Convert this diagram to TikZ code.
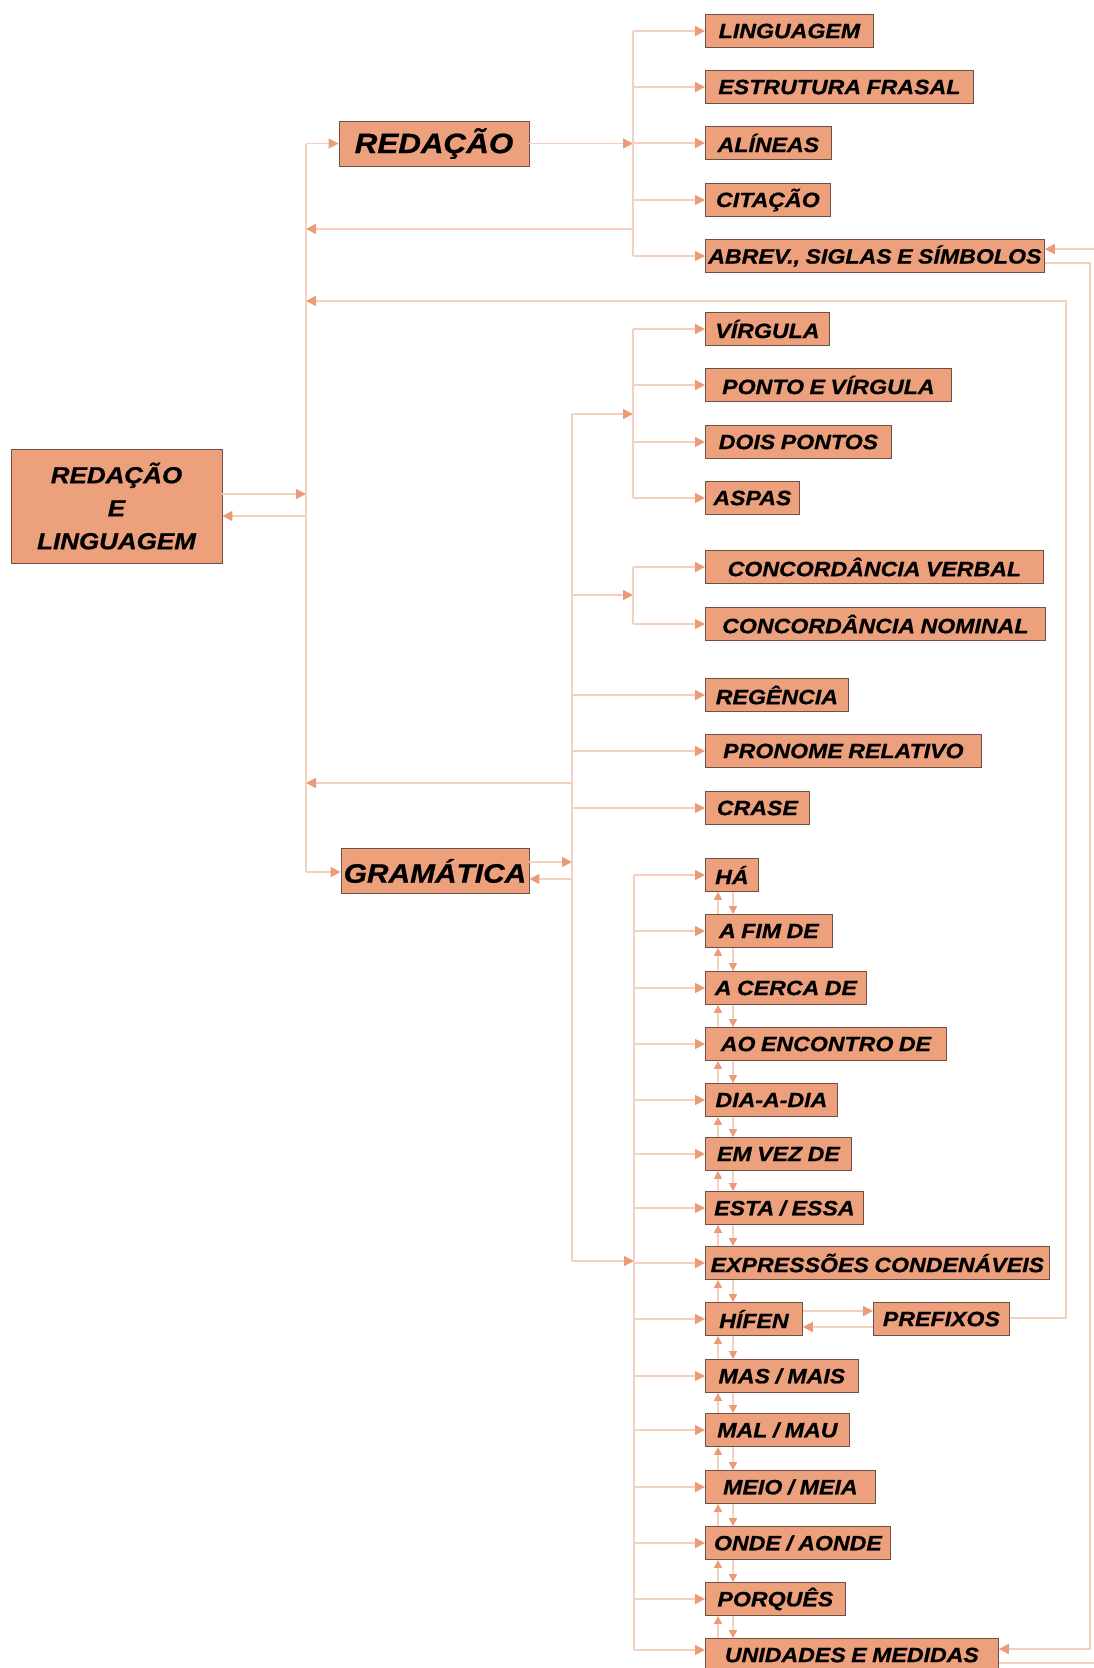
\documentclass[tikz,border=0pt]{standalone}
\usepackage{fontspec}
\newfontfamily\boxfont{Liberation Sans}[FakeStretch=1.12,WordSpace=0.85,FakeBold=0.8]
\usetikzlibrary{arrows.meta,calc}
\definecolor{boxfill}{RGB}{236,160,124}
\definecolor{boxline}{RGB}{110,80,70}
\definecolor{linec}{RGB}{246,208,190}
\definecolor{tipc}{RGB}{236,155,120}
\begin{document}
\begin{tikzpicture}[x=0.75pt,y=-0.75pt,
  conn/.style={draw=linec, line width=1.1pt},
  arr/.style={conn, -{Triangle[length=7.5pt,width=7.5pt,color=tipc]}},
  sarr/.style={conn, -{Triangle[length=6pt,width=6pt,color=tipc]}},
  boxbase/.style={draw=boxline, fill=boxfill, line width=0.6pt, inner sep=0pt, text=black},
  sbox/.style={boxbase, anchor=west, minimum height=24.75pt, font=\boxfont\bfseries\itshape\fontsize{15.5}{18}\selectfont},
  bbox/.style={boxbase, minimum height=33.75pt, font=\boxfont\bfseries\itshape\fontsize{20}{24}\selectfont},
  mbox/.style={boxbase, align=center, minimum width=158.25pt, minimum height=85.5pt, font=\boxfont\bfseries\itshape\fontsize{17.4}{24.75}\selectfont}
]
\useasboundingbox (0,0) rectangle (1093,1668);
\fill[white] (0,0) rectangle (1093,1668);

% main nodes
\node[mbox] (main) at (116.5,506) {REDAÇÃO\\E\\LINGUAGEM};
\node[bbox, minimum width=142.5pt, font=\boxfont\bfseries\itshape\fontsize{21}{24}\selectfont] (red) at (434,143.5) {REDAÇÃO};
\node[bbox, minimum width=141pt] (gra) at (435,871) {GRAMÁTICA};

% top group
\node[sbox, minimum width=168*0.75pt] (lin) at (705,31) {LINGUAGEM};
\node[sbox, minimum width=268*0.75pt] (est) at (705,87) {ESTRUTURA FRASAL};
\node[sbox, minimum width=126*0.75pt] (ali) at (705,143) {ALÍNEAS};
\node[sbox, minimum width=125*0.75pt] (cit) at (705,200) {CITAÇÃO};
\node[sbox, minimum width=339*0.75pt] (abr) at (705,256) {ABREV., SIGLAS E SÍMBOLOS};

% punctuation group
\node[sbox, minimum width=124*0.75pt] (vir) at (705,329) {VÍRGULA};
\node[sbox, minimum width=246*0.75pt] (pev) at (705,385) {PONTO E VÍRGULA};
\node[sbox, minimum width=186*0.75pt] (doi) at (705,442) {DOIS PONTOS};
\node[sbox, minimum width=94*0.75pt] (asp) at (705,498) {ASPAS};

% concordance
\node[sbox, minimum width=338*0.75pt] (cv) at (705,567) {CONCORDÂNCIA VERBAL};
\node[sbox, minimum width=340*0.75pt] (cn) at (705,624) {CONCORDÂNCIA NOMINAL};

\node[sbox, minimum width=143*0.75pt] (reg) at (705,695) {REGÊNCIA};
\node[sbox, minimum width=276*0.75pt] (pro) at (705,751) {PRONOME RELATIVO};
\node[sbox, minimum width=104*0.75pt] (cra) at (705,808) {CRASE};

% expressions
\node[sbox, minimum width=53*0.75pt] (e1) at (705,875) {HÁ};
\node[sbox, minimum width=127*0.75pt] (e2) at (705,931) {A FIM DE};
\node[sbox, minimum width=161*0.75pt] (e3) at (705,988) {A CERCA DE};
\node[sbox, minimum width=241*0.75pt] (e4) at (705,1044) {AO ENCONTRO DE};
\node[sbox, minimum width=132*0.75pt] (e5) at (705,1100) {DIA-A-DIA};
\node[sbox, minimum width=146*0.75pt] (e6) at (705,1154) {EM VEZ DE};
\node[sbox, minimum width=158*0.75pt] (e7) at (705,1208) {ESTA / ESSA};
\node[sbox, minimum width=344*0.75pt] (e8) at (705,1263) {EXPRESSÕES CONDENÁVEIS};
\node[sbox, minimum width=97*0.75pt] (e9) at (705,1319) {HÍFEN};
\node[sbox, minimum width=153*0.75pt] (e10) at (705,1376) {MAS / MAIS};
\node[sbox, minimum width=144*0.75pt] (e11) at (705,1430) {MAL / MAU};
\node[sbox, minimum width=170*0.75pt] (e12) at (705,1487) {MEIO / MEIA};
\node[sbox, minimum width=185*0.75pt] (e13) at (705,1543) {ONDE / AONDE};
\node[sbox, minimum width=140*0.75pt] (e14) at (705,1599) {PORQUÊS};
\node[sbox, minimum width=293*0.75pt] (e15) at (705,1655) {UNIDADES E MEDIDAS};

\node[sbox, minimum width=136*0.75pt] (pre) at (873,1319) {PREFIXOS};

% junction coordinates
\coordinate (v1top) at (306,143.5);
\coordinate (v1bot) at (306,872);
\coordinate (v1a) at (306,494);
\coordinate (v1b) at (306,516);
\coordinate (v1c) at (306,229);
\coordinate (v1d) at (306,301);
\coordinate (v1e) at (306,783);
\coordinate (rj) at (633,143.5);
\coordinate (rjb) at (633,229);
\coordinate (gv1) at (572,862);
\coordinate (gv2) at (572,879);
\coordinate (gtop) at (572,414);
\coordinate (gbot) at (572,1261);
\coordinate (gp) at (572,595);
\coordinate (gb) at (572,783);
\coordinate (pj) at (633,414);
\coordinate (cj) at (633,595);
\coordinate (ej) at (634,1261);
\coordinate (xu) at (718,0);
\coordinate (xd) at (733,0);

% main vertical line and links
\draw[conn] (v1top) -- (v1bot);
\draw[arr] (main.east |- v1a) -- (v1a);
\draw[arr] (v1b) -- (main.east |- v1b);
\draw[arr] (v1top) -- (red.west);
\draw[arr] (v1bot) -- (gra.west |- v1bot);

% redaction branch
\draw[arr] (red.east) -- (rj);
\draw[conn] (633,31) -- (633,256);
\foreach \n in {lin,est,ali,cit,abr} \draw[arr] (\n.west -| rj) -- (\n.west);
\draw[arr] (rjb) -- (v1c);

% grammar branch
\draw[arr] (gra.east |- gv1) -- (gv1);
\draw[arr] (gv2) -- (gra.east |- gv2);
\draw[conn] (gtop) -- (gbot);
\draw[arr] (gtop) -- (pj);
\draw[conn] (633,329) -- (633,498);
\foreach \n in {vir,pev,doi,asp} \draw[arr] (\n.west -| pj) -- (\n.west);
\draw[arr] (gp) -- (cj);
\draw[conn] (633,567) -- (633,624);
\foreach \n in {cv,cn} \draw[arr] (\n.west -| cj) -- (\n.west);
\foreach \n in {reg,pro,cra} \draw[arr] (\n.west -| gtop) -- (\n.west);
\draw[arr] (gb) -- (v1e);

% expressions
\draw[arr] (gbot) -- (ej);
\draw[conn] (634,875) -- (634,1650);
\foreach \n in {e1,e2,e3,e4,e5,e6,e7,e8,e9,e10,e11,e12,e13,e14} \draw[arr] (\n.west -| ej) -- (\n.west);
\draw[arr] (634,1650) -- (e15.west |- 0,1650);
\foreach \a/\b in {e1/e2,e2/e3,e3/e4,e4/e5,e5/e6,e6/e7,e7/e8,e8/e9,e9/e10,e10/e11,e11/e12,e12/e13,e13/e14,e14/e15}{
  \draw[sarr] (\b.north -| xu) -- (\a.south -| xu);
  \draw[sarr] (\a.south -| xd) -- (\b.north -| xd);
}

% hifen <-> prefixos
\draw[arr] (e9.east |- 0,1311) -- (pre.west |- 0,1311);
\draw[arr] (pre.west |- 0,1327) -- (e9.east |- 0,1327);
\draw[arr] (pre.east |- 0,1318) -- (1066,1318) -- (1066,301) -- (v1d);

% abrev <-> unidades
\draw[arr] (abr.east |- 0,263) -- (1090,263) -- (1090,1649) -- (e15.east |- 0,1649);
\draw[arr] (e15.east |- 0,1663) -- (1097,1663) -- (1097,249) -- (abr.east |- 0,249);
\end{tikzpicture}
\end{document}
